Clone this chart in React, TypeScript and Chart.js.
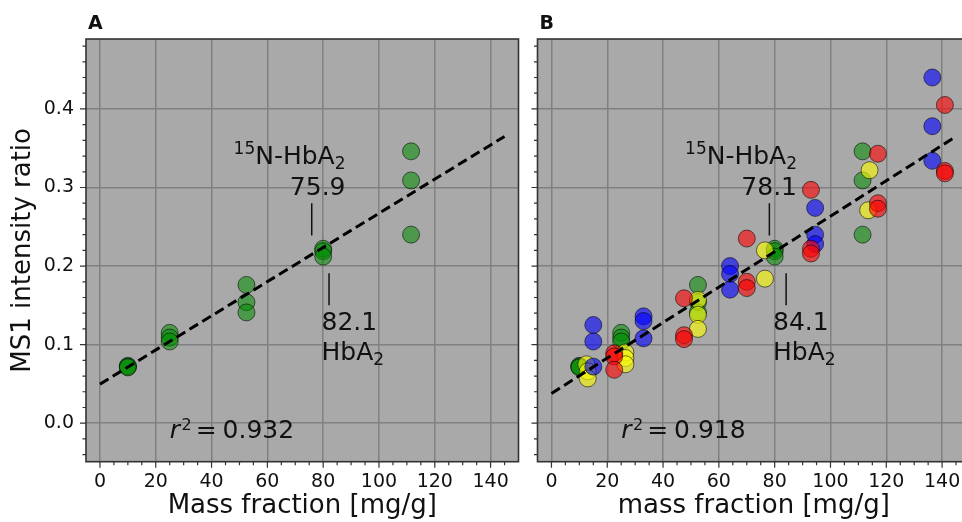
import React, { useEffect, useRef } from "react";
import { Chart, registerables } from "chart.js";
Chart.register(...registerables);

const FONT = '"DejaVu Sans", Verdana, sans-serif';

// ---- axes ----
const xTicks = [0, 20, 40, 60, 80, 100, 120, 140];
const xTickLabels = ["0", "20", "40", "60", "80", "100", "120", "140"];
const xMinorTicks = [5, 10, 15, 25, 30, 35, 45, 50, 55, 65, 70, 75, 85, 90, 95, 105, 110, 115, 125, 130, 135, 145];
const yTicks = [0, 0.1, 0.2, 0.3, 0.4];
const yTickLabels = ["0.0", "0.1", "0.2", "0.3", "0.4"];
const yMinorTicks = [-0.04, -0.02, 0.02, 0.04, 0.06, 0.08, 0.12, 0.14, 0.16, 0.18, 0.22, 0.24, 0.26, 0.28, 0.32, 0.34, 0.36, 0.38, 0.42, 0.44, 0.46, 0.48];
const xRange = [-5, 150];
const yRange = [-0.049, 0.489];

// ---- panel texts ----
const panelLabels = ["A", "B"];
const xTitles = ["Mass fraction [mg/g]", "mass fraction [mg/g]"];
const yTitle = "MS1 intensity ratio";
const upperValues = [75.9, 78.1];
const lowerValues = [82.1, 84.1];
const r2Values = ["0.932", "0.918"];

// ---- series ----
const greenX = [10, 10, 10, 25, 25, 25, 52.5, 52.5, 52.5, 80, 80, 80, 111.5, 111.5, 111.5];
const greenY = [0.073, 0.072, 0.071, 0.115, 0.109, 0.104, 0.176, 0.154, 0.141, 0.222, 0.219, 0.212, 0.346, 0.309, 0.240];

const yellowX = [12.5, 13, 13, 26.5, 26.5, 26.5, 52.5, 52.5, 52.5, 76.5, 76.5, 114, 113.5];
const yellowY = [0.075, 0.066, 0.057, 0.090, 0.083, 0.075, 0.157, 0.138, 0.120, 0.220, 0.184, 0.322, 0.271];

const blueX = [15, 15, 15, 33, 33, 33, 64, 64, 64, 94.5, 94.5, 94.5, 136.5, 136.5, 136.5];
const blueY = [0.125, 0.104, 0.072, 0.136, 0.130, 0.108, 0.200, 0.190, 0.170, 0.274, 0.240, 0.228, 0.440, 0.378, 0.334];

const redX = [22.5, 22.5, 22.5, 47.5, 47.5, 47.5, 70, 70, 70, 93, 93, 93, 117, 117, 117, 141, 141, 141];
const redY = [0.089, 0.085, 0.068, 0.159, 0.112, 0.107, 0.235, 0.180, 0.172, 0.297, 0.222, 0.216, 0.343, 0.280, 0.273, 0.405, 0.321, 0.318];

// regression lines (end points)
const fitAX = [0, 145];
const fitAY = [0.0497, 0.365];
const fitBX = [0, 145];
const fitBY = [0.0378, 0.365];

const BG = "#a9a9a9";
const GRID = "#808080";
const FRAME = "#333333";
const TEXT = "#111111";
const EDGE = "rgba(0,0,0,0.55)";
const GREEN = "rgba(0,140,0,0.55)";
const YELLOW = "rgba(255,255,0,0.6)";
const BLUE = "rgba(0,0,255,0.6)";
const RED = "rgba(255,0,0,0.6)";

const pts = (xs: number[], ys: number[]) => xs.map((v, i) => ({ x: v, y: ys[i] }));

type Part = { t: string; s: number; dy?: number; style?: string; gap?: number };
function drawParts(ctx: CanvasRenderingContext2D, parts: Part[], x: number, y: number, align: "left" | "right") {
  let total = 0;
  const widths: number[] = [];
  for (const p of parts) {
    ctx.font = `${p.style || ""} ${p.s}px ${FONT}`;
    const w = ctx.measureText(p.t).width;
    widths.push(w);
    total += w + (p.gap || 0);
  }
  let cx = align === "right" ? x - total : x;
  ctx.textAlign = "left";
  ctx.textBaseline = "alphabetic";
  parts.forEach((p, i) => {
    cx += p.gap || 0;
    ctx.font = `${p.style || ""} ${p.s}px ${FONT}`;
    ctx.fillText(p.t, cx, y + (p.dy || 0));
    cx += widths[i];
  });
}

const decorPlugin = {
  id: "decor",
  beforeDraw(chart: any) {
    const { ctx, chartArea: a } = chart;
    ctx.save();
    ctx.fillStyle = BG;
    ctx.fillRect(a.left, a.top, a.right - a.left, a.bottom - a.top);
    ctx.restore();
  },
  afterDraw(chart: any, _args: any, opts: any) {
    const { ctx, chartArea: a } = chart;
    const xs = chart.scales.x;
    const ys = chart.scales.y;
    const i = opts.panel as number;
    const px = (v: number) => xs.getPixelForValue(v);
    const py = (v: number) => ys.getPixelForValue(v);
    ctx.save();
    // ticks
    ctx.strokeStyle = FRAME;
    ctx.lineWidth = 1.2;
    ctx.beginPath();
    for (const v of xTicks) { const p = px(v); ctx.moveTo(p, a.bottom); ctx.lineTo(p, a.bottom + 6); }
    for (const v of xMinorTicks) { const p = px(v); ctx.moveTo(p, a.bottom); ctx.lineTo(p, a.bottom + 3.5); }
    for (const v of yTicks) { const p = py(v); ctx.moveTo(a.left, p); ctx.lineTo(a.left - 6, p); }
    for (const v of yMinorTicks) { const p = py(v); ctx.moveTo(a.left, p); ctx.lineTo(a.left - 3.5, p); }
    ctx.stroke();
    // frame
    ctx.lineWidth = 1.6;
    ctx.strokeRect(a.left, a.top, a.right - a.left, a.bottom - a.top);
    // panel label
    ctx.fillStyle = TEXT;
    ctx.font = `bold 19px ${FONT}`;
    ctx.textAlign = "left";
    ctx.textBaseline = "alphabetic";
    ctx.fillText(panelLabels[i], a.left + 2, 29);
    // annotations
    drawParts(ctx, [{ t: "15", s: 17, dy: -10.7 }, { t: "N-HbA", s: 25 }, { t: "2", s: 17, dy: 4.5 }], px(88), py(0.3295), "right");
    drawParts(ctx, [{ t: upperValues[i].toFixed(1), s: 25 }], px(88), py(0.290), "right");
    ctx.strokeStyle = TEXT;
    ctx.lineWidth = 1.5;
    ctx.beginPath();
    ctx.moveTo(px(upperValues[i]), py(0.280));
    ctx.lineTo(px(upperValues[i]), py(0.239));
    ctx.moveTo(px(lowerValues[i]), py(0.191));
    ctx.lineTo(px(lowerValues[i]), py(0.150));
    ctx.stroke();
    drawParts(ctx, [{ t: lowerValues[i].toFixed(1), s: 25 }], px(79.4), py(0.119), "left");
    drawParts(ctx, [{ t: "HbA", s: 25 }, { t: "2", s: 17, dy: 4.5 }], px(79.4), py(0.080), "left");
    drawParts(ctx, [
      { t: "r", s: 25, style: "italic" },
      { t: "2", s: 16, dy: -8.5, gap: 1.5 },
      { t: "=", s: 25, gap: 4 },
      { t: r2Values[i], s: 25, gap: 6 },
    ], px(25), py(-0.019), "left");
    ctx.restore();
  },
};

function scatterSet(xs: number[], ys: number[], color: string) {
  return {
    type: "scatter" as const,
    data: pts(xs, ys),
    backgroundColor: color,
    borderColor: EDGE,
    borderWidth: 1,
    pointRadius: 8.5,
    pointHoverRadius: 8.5,
  };
}

function fitSet(xs: number[], ys: number[]) {
  return {
    type: "line" as const,
    data: pts(xs, ys),
    borderColor: "#000",
    borderWidth: 3,
    borderDash: [10, 5],
    pointRadius: 0,
    fill: false,
  };
}

function makeOptions(panel: number, padRight: number) {
  const isA = panel === 0;
  return {
    responsive: false,
    devicePixelRatio: 1,
    animation: false as const,
    layout: { padding: { top: 39, right: padRight, bottom: 0, left: 0 } },
    plugins: { legend: { display: false }, tooltip: { enabled: false }, decor: { panel } },
    scales: {
      x: {
        type: "linear" as const,
        min: xRange[0],
        max: xRange[1],
        afterBuildTicks: (s: any) => { s.ticks = xTicks.map((v) => ({ value: v })); },
        afterFit: (s: any) => { s.height = 60.3; },
        ticks: {
          callback: (_v: any, idx: number) => xTickLabels[idx],
          font: { family: FONT, size: 19 },
          color: TEXT,
          padding: 9,
          maxRotation: 0,
          autoSkip: false,
        },
        grid: { color: GRID, lineWidth: 1.5, drawTicks: false },
        border: { display: false },
        title: { display: true, text: xTitles[panel], font: { family: FONT, size: 26 }, color: TEXT, padding: { top: 0, bottom: 0 } },
      },
      y: {
        type: "linear" as const,
        min: yRange[0],
        max: yRange[1],
        afterBuildTicks: (s: any) => { s.ticks = yTicks.map((v) => ({ value: v })); },
        afterFit: (s: any) => { s.width = isA ? 86 : 8; },
        ticks: {
          display: isA,
          callback: (_v: any, idx: number) => yTickLabels[idx],
          font: { family: FONT, size: 19 },
          color: TEXT,
          padding: 12,
          autoSkip: false,
        },
        grid: { color: GRID, lineWidth: 1.5, drawTicks: false },
        border: { display: false },
        title: { display: isA, text: yTitle, font: { family: FONT, size: 26 }, color: TEXT, padding: { top: 7.5, bottom: 0 } },
      },
    },
  };
}

export default function App() {
  const refA = useRef<HTMLCanvasElement | null>(null);
  const refB = useRef<HTMLCanvasElement | null>(null);

  useEffect(() => {
    const chartA = new Chart(refA.current as HTMLCanvasElement, {
      type: "scatter",
      data: { datasets: [fitSet(fitAX, fitAY), scatterSet(greenX, greenY, GREEN)] as any },
      options: makeOptions(0, 7.3) as any,
      plugins: [decorPlugin as any],
    });
    const chartB = new Chart(refB.current as HTMLCanvasElement, {
      type: "scatter",
      data: {
        datasets: [
          fitSet(fitBX, fitBY),
          scatterSet(redX, redY, RED),
          scatterSet(blueX, blueY, BLUE),
          scatterSet(yellowX, yellowY, YELLOW),
          scatterSet(greenX, greenY, GREEN),
        ] as any,
      },
      options: makeOptions(1, 18) as any,
      plugins: [decorPlugin as any],
    });
    return () => {
      chartA.destroy();
      chartB.destroy();
    };
  }, []);

  return (
    <div style={{ position: "fixed", left: 0, top: 0, width: 962, height: 522, overflow: "hidden", background: "#fff" }}>
      <canvas ref={refA} width={528} height={522} style={{ position: "absolute", left: 0, top: 0, width: 528, height: 522 }} />
      <canvas ref={refB} width={460} height={522} style={{ position: "absolute", left: 528, top: 0, width: 460, height: 522 }} />
    </div>
  );
}
